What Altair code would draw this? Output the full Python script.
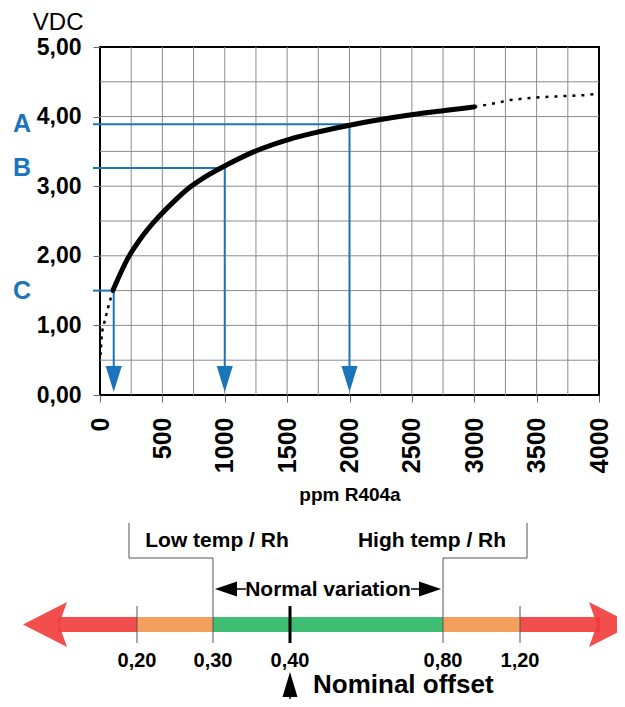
import altair as alt
import pandas as pd

# ---------------- data ----------------
curve_ppm = [105, 225, 335, 455, 575, 710, 840, 1010, 1240, 1510, 1775, 2010, 2190, 2510, 2780, 3000]
curve_vdc = [1.51, 1.97, 2.27, 2.53, 2.75, 2.97, 3.13, 3.30, 3.50, 3.67, 3.79, 3.88, 3.94, 4.03, 4.09, 4.14]
tail_ppm = [3000, 3100, 3190, 3290, 3530, 3790, 3900, 4000]
tail_vdc = [4.14, 4.17, 4.20, 4.24, 4.28, 4.30, 4.31, 4.33]
head_ppm = [105, 70, 40, 15, 5]
head_vdc = [1.51, 1.29, 1.08, 0.90, 0.58]

ref_labels = ["A", "B", "C"]
ref_ppm = [2000, 1000, 110]
ref_vdc = [3.89, 3.26, 1.50]

grid_ppm = list(range(250, 4000, 250))
grid_vdc = [0.5, 1.0, 1.5, 2.0, 2.5, 3.0, 3.5, 4.0, 4.5]
x_ticks = list(range(0, 4001, 500))
y_ticks = [0, 1, 2, 3, 4, 5]

offset_values = [0.20, 0.30, 0.40, 0.80, 1.20]
offset_labels = ["0,20", "0,30", "0,40", "0,80", "1,20"]
band_start = [0.20, 0.30, 0.80]
band_end = [0.30, 0.80, 1.20]
band_zone = ["warn", "normal", "warn"]
limit_low = [0.20]
limit_high = [1.20]
normal_low = [0.30]
normal_high = [0.80]
nominal = [0.40]

# ---------------- style ----------------
FONT = "Liberation Sans"
BLUE = "#1B75BB"
RED = "#F23B3B"
ORANGE = "#F4A05C"
GREEN = "#3DBE72"
W, H = 499, 348

xscale = alt.Scale(domain=[0, 4000], nice=False, zero=False)
yscale = alt.Scale(domain=[0, 5], nice=False, zero=False)

xaxis = alt.Axis(values=x_ticks, format="d", labelAngle=270, labelFont=FONT, labelFontSize=25,
                 labelFontWeight="bold", labelColor="black", labelPadding=15, labelFlush=False,
                 labelOverlap=False, tickSize=7, tickColor="#666666", domain=False, grid=False,
                 title="ppm R404a", titleFont=FONT, titleFontSize=19, titleFontWeight="bold",
                 titleColor="black", titleY=105, titleBaseline="alphabetic")
yaxis = alt.Axis(values=y_ticks, labelExpr="replace(format(datum.value, '.2f'), '.', ',')",
                 labelFont=FONT, labelFontSize=23, labelFontWeight="bold", labelColor="black",
                 labelPadding=12, labelFlush=False, labelOverlap=False, tickSize=7,
                 tickColor="#666666", domain=False, grid=False,
                 title="VDC", titleAngle=0, titleFont=FONT, titleFontSize=24,
                 titleFontWeight="normal", titleColor="black", titleX=-17, titleY=-18,
                 titleAlign="right", titleBaseline="alphabetic")


def X(f="ppm"):
    return alt.X(f"{f}:Q", scale=xscale, axis=xaxis)


def Y(f="vdc"):
    return alt.Y(f"{f}:Q", scale=yscale, axis=yaxis)


# ---------------- top plot ----------------
df_curve = pd.DataFrame({"ppm": curve_ppm, "vdc": curve_vdc, "i": range(len(curve_ppm))})
df_tail = pd.DataFrame({"ppm": tail_ppm, "vdc": tail_vdc, "i": range(len(tail_ppm))})
df_head = pd.DataFrame({"ppm": head_ppm, "vdc": head_vdc, "i": range(len(head_ppm))})
df_ref = pd.DataFrame({"label": ref_labels, "ppm": ref_ppm, "vdc": ref_vdc})
df_gx = pd.DataFrame({"ppm": grid_ppm})
df_gy = pd.DataFrame({"vdc": grid_vdc})

grid_x = alt.Chart(df_gx).mark_rule(color="#8c8c8c", strokeWidth=1).encode(x=X())
grid_y = alt.Chart(df_gy).mark_rule(color="#8c8c8c", strokeWidth=1).encode(y=Y())

blue_h = alt.Chart(df_ref).mark_rule(color=BLUE, strokeWidth=2).encode(
    x=X(), x2=alt.value(-7), y=Y())
blue_v = alt.Chart(df_ref).mark_rule(color=BLUE, strokeWidth=2).encode(
    x=X(), y=Y(), y2=alt.value(325))
DOWN = "M0,0L-0.62,-2L0.62,-2Z"
blue_heads = alt.Chart(df_ref).mark_point(shape=DOWN, size=676, filled=True, opacity=1,
                                          color=BLUE).encode(x=X(), y=alt.value(345))

line_head = alt.Chart(df_head).mark_line(color="black", strokeWidth=2.5, strokeDash=[3, 5]).encode(
    x=X(), y=Y(), order="i:Q")
line_tail = alt.Chart(df_tail).mark_line(color="black", strokeWidth=2.5, strokeDash=[3, 6]).encode(
    x=X(), y=Y(), order="i:Q")
line_curve = alt.Chart(df_curve).mark_line(color="black", strokeWidth=5, strokeCap="round",
                                           strokeJoin="round", interpolate="monotone").encode(
    x=X(), y=Y(), order="i:Q")

abc = alt.Chart(df_ref).mark_text(font=FONT, fontSize=25, fontWeight="bold", color=BLUE,
                                  align="center", baseline="middle").encode(
    x=alt.value(-78), y=Y(), text="label:N")

top = alt.layer(grid_x, grid_y, blue_h, blue_v, blue_heads, line_head, line_tail, line_curve, abc)

# ---------------- offset diagram ----------------
dscale = alt.Scale(domain=offset_values, range=[37, 113, 190, 343, 420], nice=False, zero=False)


def DX(f="v"):
    return alt.X(f"{f}:Q", scale=dscale, axis=None)


BAR_Y = 577.5
df_band = pd.DataFrame({"start": band_start, "end": band_end, "zone": band_zone})
df_lo = pd.DataFrame({"v": limit_low})
df_hi = pd.DataFrame({"v": limit_high})
df_nlo = pd.DataFrame({"v": normal_low})
df_nhi = pd.DataFrame({"v": normal_high})
df_nom = pd.DataFrame({"v": nominal})
df_ticks = pd.DataFrame({"v": offset_values, "label": offset_labels})
df_one = pd.DataFrame({"v": [0]})

red_lo = alt.Chart(df_lo).mark_rule(color=RED, strokeWidth=15, opacity=0.9).encode(
    x=DX(), x2=alt.value(-42), y=alt.value(BAR_Y))
red_hi = alt.Chart(df_hi).mark_rule(color=RED, strokeWidth=15, opacity=0.9).encode(
    x=DX(), x2=alt.value(500), y=alt.value(BAR_Y))
LEFT_BIG = "M0,0L1.956,-1L1.6,0L1.956,1Z"
RIGHT_BIG = "M0,0L-1.956,-1L-1.6,0L-1.956,1Z"
red_head_l = alt.Chart(df_one).mark_point(shape=LEFT_BIG, size=2025, filled=True, opacity=0.9,
                                          color=RED).encode(x=alt.value(-77), y=alt.value(BAR_Y))
red_head_r = alt.Chart(df_one).mark_point(shape=RIGHT_BIG, size=2025, filled=True, opacity=0.9,
                                          color=RED).encode(x=alt.value(533), y=alt.value(BAR_Y))
bands = alt.Chart(df_band).mark_rule(strokeWidth=15).encode(
    x=DX("start"), x2=alt.X2("end"), y=alt.value(BAR_Y),
    color=alt.Color("zone:N", scale=alt.Scale(domain=["warn", "normal"], range=[ORANGE, GREEN]),
                    legend=None))

LINE = "#555555"
limit_ticks = alt.Chart(pd.DataFrame({"v": limit_low + limit_high})).mark_rule(
    color=LINE, strokeWidth=1).encode(x=DX(), y=alt.value(559), y2=alt.value(596))
normal_ticks = alt.Chart(pd.DataFrame({"v": normal_low + normal_high})).mark_rule(
    color=LINE, strokeWidth=1).encode(x=DX(), y=alt.value(511), y2=alt.value(596))
br_lo_h = alt.Chart(df_nlo).mark_rule(color=LINE, strokeWidth=1).encode(
    x=DX(), x2=alt.value(29), y=alt.value(511))
br_hi_h = alt.Chart(df_nhi).mark_rule(color=LINE, strokeWidth=1).encode(
    x=DX(), x2=alt.value(427), y=alt.value(511))
br_lo_v = alt.Chart(df_one).mark_rule(color=LINE, strokeWidth=1).encode(
    x=alt.value(29), y=alt.value(476), y2=alt.value(511))
br_hi_v = alt.Chart(df_one).mark_rule(color=LINE, strokeWidth=1).encode(
    x=alt.value(427), y=alt.value(476), y2=alt.value(511))
nom_tick = alt.Chart(df_nom).mark_rule(color="black", strokeWidth=3).encode(
    x=DX(), y=alt.value(559), y2=alt.value(596))

tick_text = alt.Chart(df_ticks).mark_text(font=FONT, fontSize=20, fontWeight="bold", color="black",
                                          align="center", baseline="alphabetic").encode(
    x=DX(), y=alt.value(620), text="label:N")

txt_style = dict(font=FONT, fontSize=21, fontWeight="bold", color="black", baseline="alphabetic")
low_txt = alt.Chart(df_one).mark_text(text="Low temp / Rh", align="center", **txt_style).encode(
    x=alt.value(117), y=alt.value(500))
high_txt = alt.Chart(df_one).mark_text(text="High temp / Rh", align="center", **txt_style).encode(
    x=alt.value(332), y=alt.value(500))
norm_txt = alt.Chart(df_one).mark_text(text="Normal variation", align="center", **txt_style).encode(
    x=alt.value(228), y=alt.value(549))
LEFT_SMALL = "M0.13,0L1.6,-0.5L1.6,0.5Z"
RIGHT_SMALL = "M-0.13,0L-1.6,-0.5L-1.6,0.5Z"
norm_head_l = alt.Chart(df_nlo).mark_point(shape=LEFT_SMALL, size=900, filled=True, opacity=1,
                                           color="black").encode(x=DX(), y=alt.value(542))
norm_head_r = alt.Chart(df_nhi).mark_point(shape=RIGHT_SMALL, size=900, filled=True, opacity=1,
                                           color="black").encode(x=DX(), y=alt.value(542))
norm_line_l = alt.Chart(df_one).mark_rule(color="black", strokeWidth=1.5).encode(
    x=alt.value(135), x2=alt.value(146), y=alt.value(542))
norm_line_r = alt.Chart(df_one).mark_rule(color="black", strokeWidth=1.5).encode(
    x=alt.value(311), x2=alt.value(321), y=alt.value(542))

UP = "M0,0L0.6,2L-0.6,2Z"
nom_head = alt.Chart(df_nom).mark_point(shape=UP, size=625, filled=True, opacity=1,
                                        color="black").encode(x=DX(), y=alt.value(625))
nom_line = alt.Chart(df_nom).mark_rule(color="black", strokeWidth=1.5).encode(
    x=DX(), y=alt.value(648), y2=alt.value(665))
nom_txt = alt.Chart(df_one).mark_text(text="Nominal offset", font=FONT, fontSize=26, fontWeight="bold",
                                      color="black", align="left", baseline="alphabetic").encode(
    x=alt.value(213), y=alt.value(646))

diagram = alt.layer(red_lo, red_hi, red_head_l, red_head_r, bands, limit_ticks, normal_ticks,
                    br_lo_h, br_hi_h, br_lo_v, br_hi_v, nom_tick, tick_text, low_txt, high_txt,
                    norm_txt, norm_head_l, norm_head_r, norm_line_l, norm_line_r, nom_head,
                    nom_line, nom_txt)

chart = alt.layer(top, diagram).resolve_scale(x="independent").properties(
    width=W, height=H,
    autosize=alt.AutoSizeParams(type="none"),
    padding={"left": 92, "top": 39, "right": 18, "bottom": 304},
    background="white",
).configure_view(stroke="black", strokeWidth=2)

chart.save("out.html", embed_options={"renderer": "svg", "actions": False})
